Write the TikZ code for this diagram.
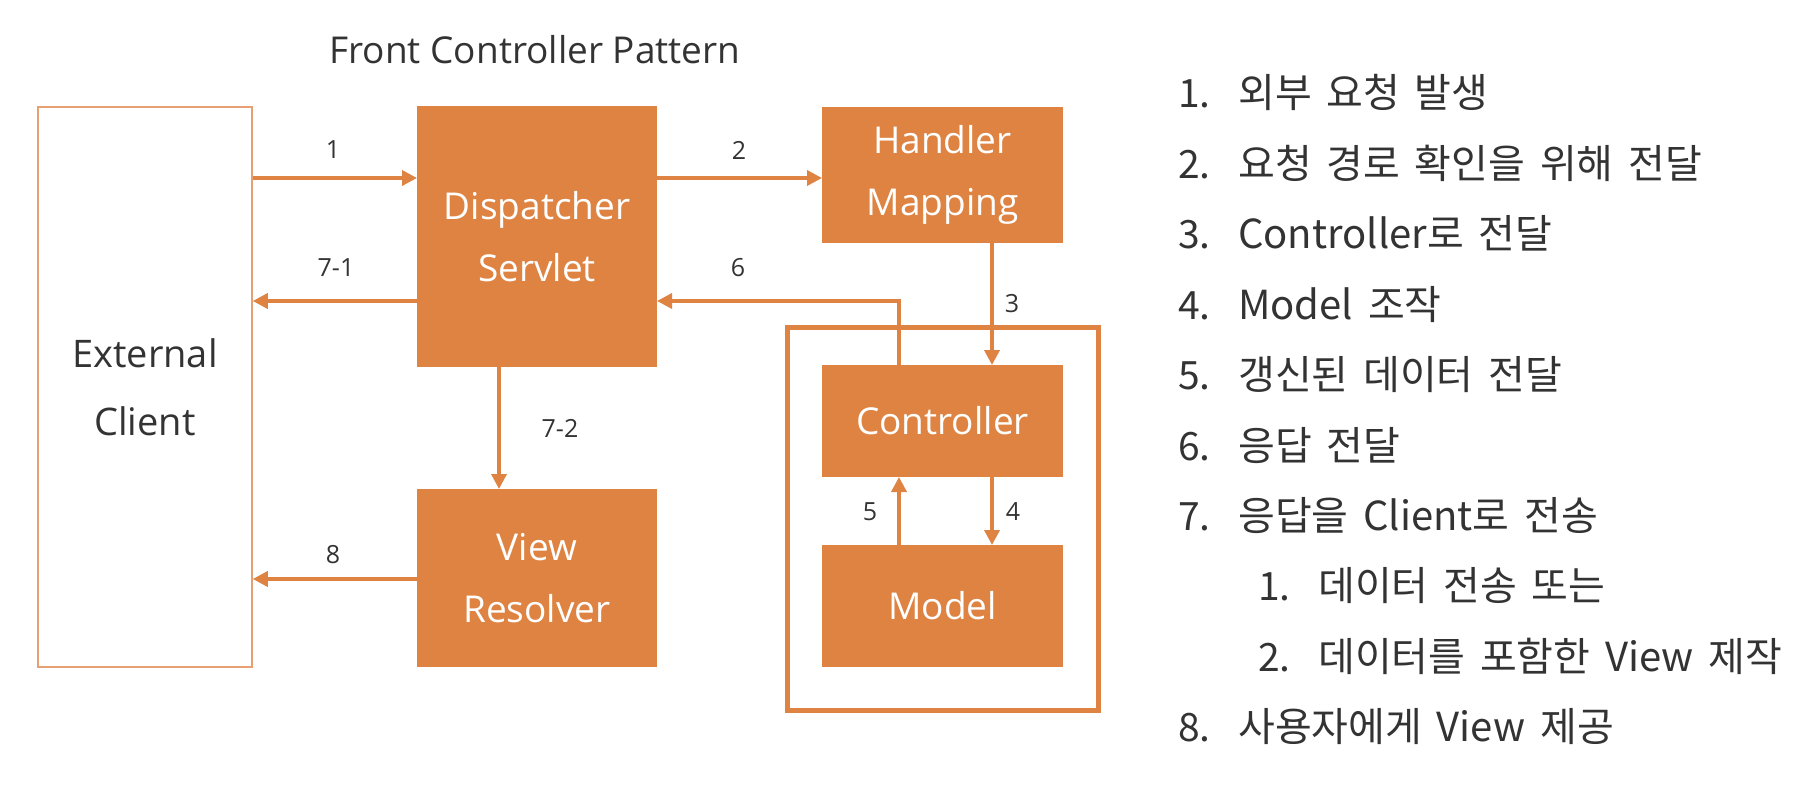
\documentclass[tikz,border=0pt]{standalone}
\usepackage{fontspec}
\setmainfont{Open Sans}
\newfontfamily\kr[WordSpace=1.65]{Noto Sans CJK KR}
\usetikzlibrary{arrows.meta}
\definecolor{org}{RGB}{222,131,66}
\definecolor{orgl}{RGB}{230,160,115}
\definecolor{txt}{RGB}{51,51,51}
\begin{document}
\begin{tikzpicture}[x=1pt,y=-1pt,
  box/.style={fill=org, draw=none, text=white, font=\fontsize{37}{62}\selectfont, align=center, inner sep=0pt, outer sep=0pt},
  arr/.style={draw=org, line width=3.5pt, -{Triangle[length=15pt,width=15pt]}},
  lbl/.style={text=txt, font=\fontsize{25}{30}\selectfont, inner sep=0pt},
  num/.style={text=txt, font=\kr\fontsize{39}{42}\selectfont, anchor=base west, inner sep=0pt},
  itm/.style={text=txt, font=\kr\fontsize{40}{42}\selectfont, anchor=base west, inner sep=0pt}]
\useasboundingbox[fill=white] (0,0) rectangle (1817,797);

% title
\node[text=txt, font=\fontsize{37}{40}\selectfont, inner sep=0pt] (title) at (535,50) {Front Controller Pattern};

% boxes
\node[draw=orgl, line width=1.5pt, text=txt, font=\fontsize{38}{68}\selectfont, align=center,
      minimum width=214pt, minimum height=560pt, inner sep=0pt] (ext) at (145,387) {External\\Client};
\node[box, minimum width=240pt, minimum height=261pt] (disp) at (537,236.5) {Dispatcher\\Servlet};
\node[box, minimum width=241pt, minimum height=136pt] (hm) at (942.5,175) {Handler\\Mapping};
\node[box, minimum width=240pt, minimum height=178pt] (vr) at (537,578) {View\\Resolver};
\node[draw=org, line width=5pt, minimum width=311pt, minimum height=383pt, inner sep=0pt] (mvc) at (942.5,518.5) {};
\node[box, minimum width=241pt, minimum height=112pt] (ctrl) at (942.5,421) {Controller};
\node[box, minimum width=241pt, minimum height=122pt] (model) at (942.5,606) {Model};

% helper coordinates
\coordinate (r1) at (0,178);
\coordinate (r6) at (0,301);
\coordinate (r8) at (0,579);
\coordinate (c6) at (899,0);
\coordinate (c3) at (992,0);
\coordinate (c72) at (499,0);

% arrows
\draw[arr] (ext.east |- r1) -- (disp.west |- r1);
\draw[arr] (disp.west |- r6) -- (ext.east |- r6);
\draw[arr] (disp.east |- r1) -- (hm.west |- r1);
\draw[arr] (hm.south -| c3) -- (ctrl.north -| c3);
\draw[arr] (ctrl.north -| c6) |- (disp.east |- r6);
\draw[arr] (ctrl.south -| c3) -- (model.north -| c3);
\draw[arr] (model.north -| c6) -- (ctrl.south -| c6);
\draw[arr] (disp.south -| c72) -- (vr.north -| c72);
\draw[arr] (vr.west |- r8) -- (ext.east |- r8);

% labels
\node[lbl] (l1) at (333,150) {1};
\node[lbl] (l71) at (336,268) {7-1};
\node[lbl] (l2) at (739,150) {2};
\node[lbl] (l6) at (738,268) {6};
\node[lbl] (l3) at (1012,304) {3};
\node[lbl] (l72) at (560,428) {7-2};
\node[lbl] (l8) at (333,555) {8};
\node[lbl] (l5) at (870,512) {5};
\node[lbl] (l4) at (1013,512) {4};

% list
\node[num] (n1) at (1178,108) {1.};  \node[itm] (t1) at (1238,108) {외부 요청 발생};
\node[num] (n2) at (1178,178.4) {2.};  \node[itm] (t2) at (1238,178.4) {요청 경로 확인을 위해 전달};
\node[num] (n3) at (1178,248.8) {3.};  \node[itm] (t3) at (1238,248.8) {Controller로 전달};
\node[num] (n4) at (1178,319.2) {4.};  \node[itm] (t4) at (1238,319.2) {Model 조작};
\node[num] (n5) at (1178,389.6) {5.};  \node[itm] (t5) at (1238,389.6) {갱신된 데이터 전달};
\node[num] (n6) at (1178,460) {6.};  \node[itm] (t6) at (1238,460) {응답 전달};
\node[num] (n7) at (1178,530.4) {7.};  \node[itm] (t7) at (1238,530.4) {응답을 Client로 전송};
\node[num] (n71) at (1258,600.8) {1.};  \node[itm] (t71) at (1318,600.8) {데이터 전송 또는};
\node[num] (n72) at (1258,671.2) {2.};  \node[itm] (t72) at (1318,671.2) {데이터를 포함한 View 제작};
\node[num] (n8) at (1178,741.6) {8.};  \node[itm] (t8) at (1238,741.6) {사용자에게 View 제공};
\end{tikzpicture}
\end{document}
